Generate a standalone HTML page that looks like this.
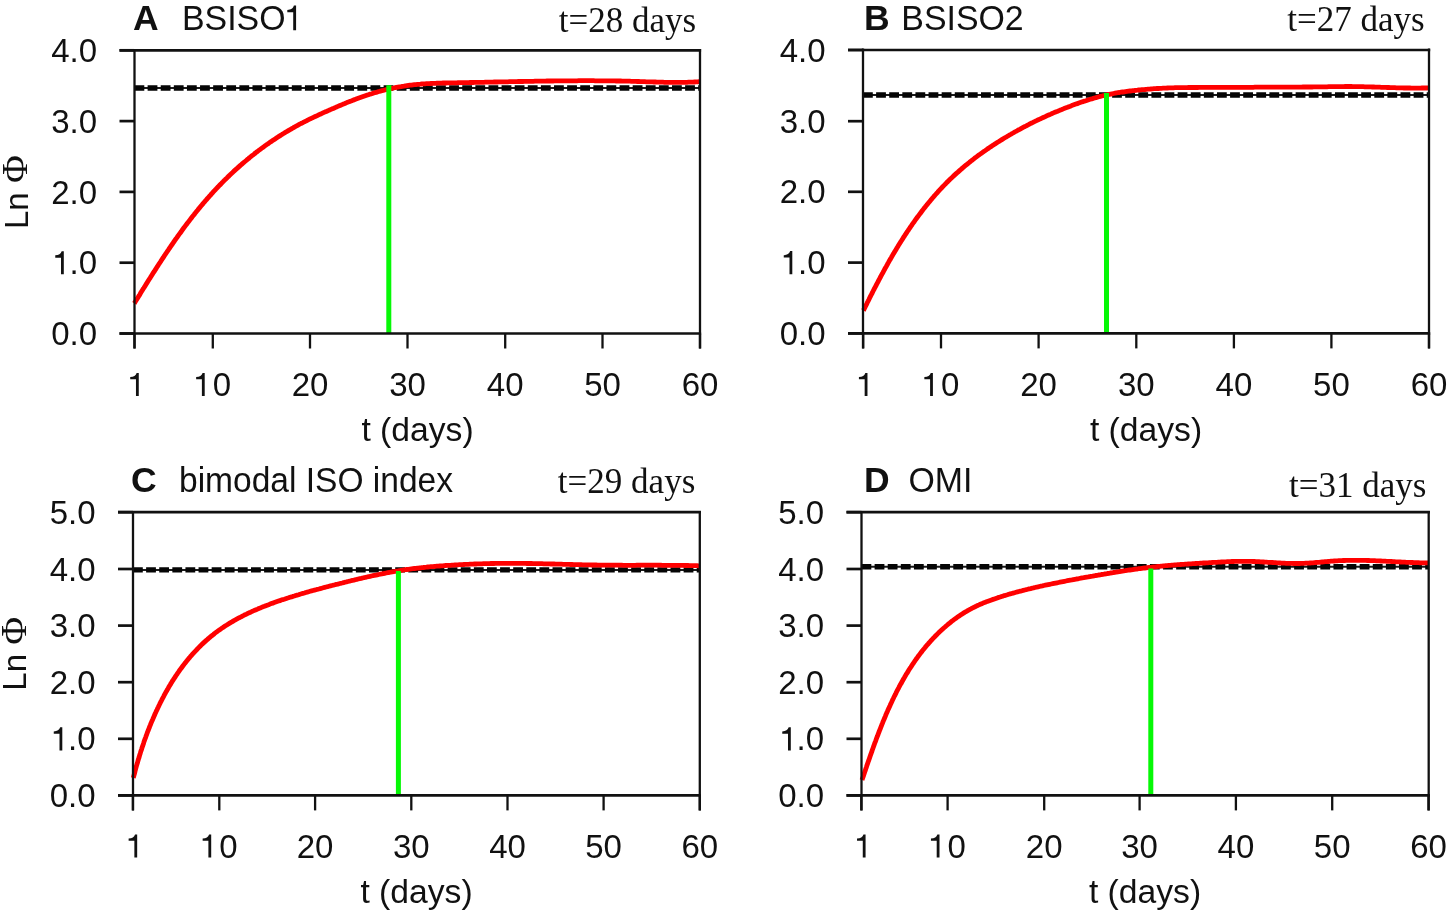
<!DOCTYPE html>
<html><head><meta charset="utf-8"><title>Ln Phi vs t</title>
<style>
html,body{margin:0;padding:0;background:#fff;}
body{width:1450px;height:914px;overflow:hidden;}
svg{display:block;filter:blur(0.45px);}
.s{font-family:"Liberation Sans",sans-serif;font-size:33px;fill:#111;}
.b{font-weight:bold;}
.r{font-family:"Liberation Serif",serif;font-size:35px;fill:#111;}
.r2{font-family:"Liberation Serif",serif;}
</style></head>
<body>
<svg width="1450" height="914" viewBox="0 0 1450 914">
<rect width="1450" height="914" fill="#fff"/>
<line x1="134.5" y1="88.0" x2="700.0" y2="88.0" stroke="#1a1a1a" stroke-width="2"/>
<line x1="134.5" y1="88.0" x2="700.0" y2="88.0" stroke="#050505" stroke-width="5.4" stroke-dasharray="9.8 3.31"/>
<path d="M134.3,303.3 L135.1,302.1 L135.9,300.8 L136.7,299.5 L137.5,298.2 L138.3,296.9 L139.1,295.7 L139.9,294.4 L140.6,293.1 L141.4,291.8 L142.2,290.5 L143.0,289.2 L143.8,288.0 L144.6,286.7 L145.4,285.4 L146.2,284.1 L147.0,282.9 L147.8,281.6 L148.6,280.3 L149.4,279.0 L150.2,277.8 L151.0,276.5 L151.8,275.2 L152.6,273.9 L153.4,272.7 L154.3,271.4 L155.1,270.1 L155.9,268.9 L156.7,267.6 L157.5,266.3 L158.3,265.1 L159.1,263.8 L160.0,262.5 L160.8,261.3 L161.6,260.0 L162.4,258.7 L163.3,257.5 L164.1,256.2 L164.9,255.0 L165.8,253.7 L166.6,252.5 L167.5,251.2 L168.3,250.0 L169.1,248.7 L170.0,247.5 L170.8,246.2 L171.7,245.0 L172.6,243.8 L173.4,242.5 L174.3,241.3 L175.1,240.0 L176.0,238.8 L176.9,237.6 L177.7,236.4 L178.6,235.1 L179.5,233.9 L180.4,232.7 L181.3,231.5 L182.1,230.2 L183.0,229.0 L183.9,227.8 L184.8,226.6 L185.7,225.4 L186.6,224.2 L187.5,223.0 L188.5,221.8 L189.4,220.6 L190.3,219.4 L191.2,218.2 L192.1,217.0 L193.1,215.8 L194.0,214.7 L194.9,213.5 L195.9,212.3 L196.8,211.1 L197.8,210.0 L198.7,208.8 L199.7,207.6 L200.6,206.5 L201.6,205.3 L202.6,204.2 L203.5,203.0 L204.5,201.9 L205.5,200.7 L206.5,199.6 L207.5,198.4 L208.5,197.3 L209.5,196.2 L210.5,195.1 L211.5,193.9 L212.5,192.8 L213.5,191.7 L214.5,190.6 L215.6,189.5 L216.6,188.4 L217.6,187.3 L218.7,186.2 L219.7,185.1 L220.8,184.1 L221.8,183.0 L222.9,181.9 L223.9,180.8 L225.0,179.8 L226.1,178.7 L227.2,177.7 L228.2,176.6 L229.3,175.6 L230.4,174.5 L231.5,173.5 L232.6,172.5 L233.7,171.4 L234.8,170.4 L235.9,169.4 L237.1,168.4 L238.2,167.4 L239.3,166.4 L240.4,165.4 L241.6,164.4 L242.7,163.4 L243.9,162.4 L245.0,161.5 L246.2,160.5 L247.3,159.5 L248.5,158.6 L249.6,157.6 L250.8,156.7 L252.0,155.7 L253.2,154.8 L254.4,153.9 L255.5,152.9 L256.7,152.0 L257.9,151.1 L259.1,150.2 L260.3,149.3 L261.5,148.4 L262.8,147.5 L264.0,146.6 L265.2,145.7 L266.4,144.8 L267.7,144.0 L268.9,143.1 L270.1,142.2 L271.4,141.4 L272.6,140.6 L273.9,139.7 L275.1,138.9 L276.4,138.0 L277.6,137.2 L278.9,136.4 L280.2,135.6 L281.5,134.8 L282.7,134.0 L284.0,133.2 L285.3,132.4 L286.6,131.7 L287.9,130.9 L289.2,130.1 L290.5,129.4 L291.8,128.6 L293.1,127.9 L294.4,127.1 L295.7,126.4 L297.1,125.7 L298.4,124.9 L299.7,124.2 L301.0,123.5 L302.4,122.8 L303.7,122.1 L305.1,121.5 L306.4,120.8 L307.7,120.1 L309.1,119.4 L310.4,118.8 L311.8,118.1 L313.2,117.5 L314.5,116.8 L315.9,116.2 L317.3,115.6 L318.6,114.9 L320.0,114.3 L321.4,113.7 L322.7,113.0 L324.1,112.4 L325.5,111.8 L326.9,111.2 L328.2,110.6 L329.6,110.0 L331.0,109.4 L332.4,108.8 L333.8,108.2 L335.1,107.6 L336.5,107.0 L337.9,106.4 L339.3,105.8 L340.7,105.2 L342.1,104.6 L343.5,104.0 L344.9,103.5 L346.2,102.9 L347.6,102.3 L349.0,101.8 L350.4,101.2 L351.8,100.7 L353.2,100.1 L354.7,99.6 L356.1,99.0 L357.5,98.5 L358.9,98.0 L360.3,97.5 L361.7,97.0 L363.1,96.5 L364.6,96.0 L366.0,95.5 L367.4,95.0 L368.9,94.6 L370.3,94.1 L371.7,93.7 L373.2,93.2 L374.6,92.8 L376.1,92.4 L377.5,91.9 L379.0,91.5 L380.4,91.1 L381.9,90.7 L383.3,90.4 L384.8,90.0 L386.2,89.6 L387.7,89.3 L389.2,88.9 L390.6,88.6 L392.1,88.3 L393.6,88.0 L395.1,87.7 L396.5,87.4 L398.0,87.1 L399.5,86.8 L401.0,86.6 L402.5,86.3 L404.0,86.1 L405.5,85.8 L406.9,85.6 L408.4,85.4 L409.9,85.2 L411.4,85.1 L412.9,84.9 L414.4,84.7 L415.9,84.6 L417.4,84.4 L418.9,84.3 L420.4,84.2 L421.9,84.0 L423.4,83.9 L424.9,83.8 L426.4,83.7 L427.9,83.6 L429.4,83.6 L430.9,83.5 L432.5,83.4 L434.0,83.3 L435.5,83.3 L437.0,83.2 L438.5,83.2 L440.0,83.1 L441.5,83.1 L443.0,83.0 L444.5,83.0 L446.0,83.0 L447.5,82.9 L449.0,82.9 L450.5,82.9 L452.0,82.8 L453.5,82.8 L455.0,82.8 L456.5,82.8 L458.1,82.7 L459.6,82.7 L461.1,82.7 L462.6,82.7 L464.1,82.6 L465.6,82.6 L467.1,82.6 L468.6,82.6 L470.1,82.5 L471.6,82.5 L473.1,82.5 L474.6,82.4 L476.1,82.4 L477.6,82.4 L479.1,82.3 L480.6,82.3 L482.2,82.3 L483.7,82.3 L485.2,82.2 L486.7,82.2 L488.2,82.2 L489.7,82.1 L491.2,82.1 L492.7,82.1 L494.2,82.0 L495.7,82.0 L497.2,82.0 L498.7,81.9 L500.2,81.9 L501.7,81.9 L503.2,81.8 L504.7,81.8 L506.3,81.8 L507.8,81.8 L509.3,81.7 L510.8,81.7 L512.3,81.7 L513.8,81.6 L515.3,81.6 L516.8,81.6 L518.3,81.5 L519.8,81.5 L521.3,81.5 L522.8,81.5 L524.3,81.4 L525.8,81.4 L527.3,81.4 L528.8,81.3 L530.4,81.3 L531.9,81.3 L533.4,81.3 L534.9,81.2 L536.4,81.2 L537.9,81.2 L539.4,81.2 L540.9,81.1 L542.4,81.1 L543.9,81.1 L545.4,81.1 L546.9,81.0 L548.4,81.0 L549.9,81.0 L551.4,81.0 L553.0,81.0 L554.5,80.9 L556.0,80.9 L557.5,80.9 L559.0,80.9 L560.5,80.9 L562.0,80.9 L563.5,80.8 L565.0,80.8 L566.5,80.8 L568.0,80.8 L569.5,80.8 L571.0,80.8 L572.5,80.8 L574.0,80.8 L575.5,80.8 L577.1,80.8 L578.6,80.7 L580.1,80.7 L581.6,80.7 L583.1,80.7 L584.6,80.7 L586.1,80.7 L587.6,80.7 L589.1,80.7 L590.6,80.7 L592.1,80.7 L593.6,80.7 L595.1,80.8 L596.6,80.8 L598.1,80.8 L599.7,80.8 L601.2,80.8 L602.7,80.8 L604.2,80.8 L605.7,80.8 L607.2,80.8 L608.7,80.9 L610.2,80.9 L611.7,80.9 L613.2,80.9 L614.7,80.9 L616.2,81.0 L617.7,81.0 L619.2,81.0 L620.7,81.0 L622.2,81.1 L623.8,81.1 L625.3,81.1 L626.8,81.2 L628.3,81.2 L629.8,81.2 L631.3,81.3 L632.8,81.3 L634.3,81.4 L635.8,81.4 L637.3,81.5 L638.8,81.5 L640.3,81.6 L641.8,81.6 L643.3,81.7 L644.8,81.7 L646.3,81.8 L647.8,81.8 L649.4,81.9 L650.9,81.9 L652.4,81.9 L653.9,82.0 L655.4,82.0 L656.9,82.1 L658.4,82.1 L659.9,82.2 L661.4,82.2 L662.9,82.2 L664.4,82.3 L665.9,82.3 L667.4,82.3 L668.9,82.4 L670.4,82.4 L671.9,82.4 L673.5,82.4 L675.0,82.4 L676.5,82.4 L678.0,82.4 L679.5,82.4 L681.0,82.4 L682.5,82.4 L684.0,82.3 L685.5,82.3 L687.0,82.3 L688.5,82.2 L690.0,82.2 L691.5,82.1 L693.0,82.1 L694.5,82.0 L696.0,81.9 L697.5,81.8 L699.0,81.7 L700.6,81.6" fill="none" stroke="#ff0000" stroke-width="4.8" stroke-linejoin="round" stroke-linecap="butt"/>
<line x1="388.8" y1="85.3" x2="388.8" y2="333.5" stroke="#06f806" stroke-width="5"/>
<line x1="119.5" y1="50.3" x2="701.1" y2="50.3" stroke="#111" stroke-width="2.7"/>
<line x1="119.5" y1="333.5" x2="701.1" y2="333.5" stroke="#111" stroke-width="2.7"/>
<line x1="134.5" y1="48.9" x2="134.5" y2="348.5" stroke="#111" stroke-width="2.3"/>
<line x1="700.0" y1="48.9" x2="700.0" y2="348.5" stroke="#111" stroke-width="2.3"/>
<line x1="119.5" y1="333.5" x2="134.5" y2="333.5" stroke="#111" stroke-width="2.7"/>
<text x="97.0" y="345.1" text-anchor="end" class="s">0.0</text>
<line x1="119.5" y1="262.7" x2="134.5" y2="262.7" stroke="#111" stroke-width="2.7"/>
<text x="97.0" y="274.3" text-anchor="end" class="s">&#8199;.0</text>
<path d="M0.269,0 L0.354,0 L0.354,0.700 L0.290,0.700 C0.262,0.612 0.205,0.585 0.095,0.575 L0.095,0.505 L0.269,0.505 Z" fill="#111" transform="translate(52.12,274.30) scale(33.000,-33.000)"/>
<line x1="119.5" y1="191.9" x2="134.5" y2="191.9" stroke="#111" stroke-width="2.7"/>
<text x="97.0" y="203.5" text-anchor="end" class="s">2.0</text>
<line x1="119.5" y1="121.1" x2="134.5" y2="121.1" stroke="#111" stroke-width="2.7"/>
<text x="97.0" y="132.7" text-anchor="end" class="s">3.0</text>
<line x1="119.5" y1="50.3" x2="134.5" y2="50.3" stroke="#111" stroke-width="2.7"/>
<text x="97.0" y="61.9" text-anchor="end" class="s">4.0</text>
<line x1="134.5" y1="333.5" x2="134.5" y2="348.5" stroke="#111" stroke-width="2.3"/>
<path d="M0.269,0 L0.354,0 L0.354,0.700 L0.290,0.700 C0.262,0.612 0.205,0.585 0.095,0.575 L0.095,0.505 L0.269,0.505 Z" fill="#111" transform="translate(127.09,396.00) scale(33.000,-33.000)"/>
<line x1="212.8" y1="333.5" x2="212.8" y2="348.5" stroke="#111" stroke-width="2.3"/>
<text x="212.8" y="396.0" text-anchor="middle" class="s">&#8199;0</text>
<path d="M0.269,0 L0.354,0 L0.354,0.700 L0.290,0.700 C0.262,0.612 0.205,0.585 0.095,0.575 L0.095,0.505 L0.269,0.505 Z" fill="#111" transform="translate(193.02,396.00) scale(33.000,-33.000)"/>
<line x1="310.0" y1="333.5" x2="310.0" y2="348.5" stroke="#111" stroke-width="2.3"/>
<text x="310.0" y="396.0" text-anchor="middle" class="s">20</text>
<line x1="407.5" y1="333.5" x2="407.5" y2="348.5" stroke="#111" stroke-width="2.3"/>
<text x="407.5" y="396.0" text-anchor="middle" class="s">30</text>
<line x1="505.2" y1="333.5" x2="505.2" y2="348.5" stroke="#111" stroke-width="2.3"/>
<text x="505.2" y="396.0" text-anchor="middle" class="s">40</text>
<line x1="602.5" y1="333.5" x2="602.5" y2="348.5" stroke="#111" stroke-width="2.3"/>
<text x="602.5" y="396.0" text-anchor="middle" class="s">50</text>
<line x1="700.0" y1="333.5" x2="700.0" y2="348.5" stroke="#111" stroke-width="2.3"/>
<text x="700.0" y="396.0" text-anchor="middle" class="s">60</text>
<text x="417.5" y="441.4" text-anchor="middle" class="s" transform="translate(417.5,0) scale(1.02,1) translate(-417.5,0)">t (days)</text>
<line x1="863.0" y1="95.0" x2="1429.0" y2="95.0" stroke="#1a1a1a" stroke-width="2"/>
<line x1="863.0" y1="95.0" x2="1429.0" y2="95.0" stroke="#050505" stroke-width="5.4" stroke-dasharray="9.8 3.31"/>
<path d="M863.4,310.5 L864.1,309.2 L864.8,307.8 L865.4,306.5 L866.1,305.1 L866.8,303.8 L867.4,302.4 L868.1,301.1 L868.8,299.7 L869.4,298.4 L870.1,297.0 L870.8,295.7 L871.5,294.3 L872.2,293.0 L872.8,291.7 L873.5,290.3 L874.2,289.0 L874.9,287.6 L875.6,286.3 L876.3,285.0 L877.0,283.6 L877.7,282.3 L878.4,281.0 L879.1,279.6 L879.8,278.3 L880.5,277.0 L881.2,275.6 L881.9,274.3 L882.7,273.0 L883.4,271.7 L884.1,270.3 L884.8,269.0 L885.5,267.7 L886.3,266.4 L887.0,265.1 L887.7,263.8 L888.5,262.4 L889.2,261.1 L890.0,259.8 L890.7,258.5 L891.5,257.2 L892.2,255.9 L893.0,254.6 L893.8,253.3 L894.5,252.0 L895.3,250.7 L896.1,249.4 L896.9,248.1 L897.6,246.9 L898.4,245.6 L899.2,244.3 L900.0,243.0 L900.8,241.7 L901.6,240.5 L902.4,239.2 L903.2,237.9 L904.0,236.7 L904.8,235.4 L905.7,234.1 L906.5,232.9 L907.3,231.6 L908.2,230.4 L909.0,229.1 L909.9,227.9 L910.7,226.6 L911.6,225.4 L912.4,224.1 L913.3,222.9 L914.2,221.7 L915.0,220.5 L915.9,219.2 L916.8,218.0 L917.7,216.8 L918.6,215.6 L919.5,214.4 L920.4,213.2 L921.3,212.0 L922.2,210.8 L923.1,209.6 L924.0,208.4 L925.0,207.2 L925.9,206.0 L926.9,204.9 L927.8,203.7 L928.8,202.5 L929.7,201.4 L930.7,200.2 L931.7,199.1 L932.6,197.9 L933.6,196.8 L934.6,195.6 L935.6,194.5 L936.6,193.4 L937.6,192.3 L938.6,191.1 L939.6,190.0 L940.7,188.9 L941.7,187.8 L942.7,186.7 L943.8,185.6 L944.8,184.6 L945.9,183.5 L946.9,182.4 L948.0,181.4 L949.1,180.3 L950.1,179.2 L951.2,178.2 L952.3,177.2 L953.4,176.1 L954.5,175.1 L955.6,174.1 L956.7,173.1 L957.9,172.1 L959.0,171.1 L960.1,170.1 L961.3,169.1 L962.4,168.1 L963.6,167.1 L964.7,166.2 L965.9,165.2 L967.0,164.3 L968.2,163.3 L969.4,162.4 L970.6,161.4 L971.7,160.5 L972.9,159.6 L974.1,158.7 L975.3,157.7 L976.5,156.8 L977.7,155.9 L978.9,155.0 L980.2,154.1 L981.4,153.3 L982.6,152.4 L983.8,151.5 L985.1,150.7 L986.3,149.8 L987.5,148.9 L988.8,148.1 L990.0,147.2 L991.3,146.4 L992.5,145.6 L993.8,144.7 L995.1,143.9 L996.3,143.1 L997.6,142.3 L998.9,141.5 L1000.1,140.7 L1001.4,139.9 L1002.7,139.1 L1004.0,138.3 L1005.3,137.5 L1006.6,136.8 L1007.9,136.0 L1009.2,135.2 L1010.5,134.5 L1011.8,133.7 L1013.1,133.0 L1014.4,132.2 L1015.7,131.5 L1017.0,130.8 L1018.3,130.0 L1019.7,129.3 L1021.0,128.6 L1022.3,127.9 L1023.6,127.2 L1025.0,126.5 L1026.3,125.8 L1027.6,125.1 L1029.0,124.4 L1030.3,123.7 L1031.7,123.0 L1033.0,122.4 L1034.4,121.7 L1035.7,121.0 L1037.1,120.4 L1038.4,119.7 L1039.8,119.1 L1041.2,118.5 L1042.5,117.8 L1043.9,117.2 L1045.3,116.6 L1046.6,115.9 L1048.0,115.3 L1049.4,114.7 L1050.8,114.1 L1052.1,113.5 L1053.5,112.9 L1054.9,112.3 L1056.3,111.7 L1057.7,111.2 L1059.1,110.6 L1060.5,110.0 L1061.9,109.5 L1063.3,108.9 L1064.7,108.3 L1066.1,107.8 L1067.5,107.3 L1068.9,106.7 L1070.3,106.2 L1071.7,105.6 L1073.1,105.1 L1074.5,104.6 L1075.9,104.1 L1077.4,103.6 L1078.8,103.1 L1080.2,102.6 L1081.6,102.1 L1083.1,101.6 L1084.5,101.1 L1085.9,100.7 L1087.3,100.2 L1088.8,99.7 L1090.2,99.3 L1091.7,98.9 L1093.1,98.4 L1094.5,98.0 L1096.0,97.6 L1097.4,97.2 L1098.9,96.8 L1100.4,96.4 L1101.8,96.0 L1103.3,95.7 L1104.7,95.3 L1106.2,95.0 L1107.7,94.7 L1109.2,94.4 L1110.6,94.1 L1112.1,93.8 L1113.6,93.5 L1115.1,93.2 L1116.6,92.9 L1118.0,92.7 L1119.5,92.5 L1121.0,92.2 L1122.5,92.0 L1124.0,91.8 L1125.5,91.6 L1127.0,91.4 L1128.5,91.2 L1130.0,91.0 L1131.5,90.8 L1133.0,90.6 L1134.5,90.5 L1136.0,90.3 L1137.4,90.2 L1138.9,90.0 L1140.4,89.9 L1141.9,89.7 L1143.4,89.6 L1144.9,89.5 L1146.4,89.3 L1147.9,89.2 L1149.4,89.1 L1151.0,89.0 L1152.5,88.9 L1154.0,88.7 L1155.5,88.6 L1157.0,88.5 L1158.5,88.5 L1160.0,88.4 L1161.5,88.3 L1163.0,88.2 L1164.5,88.1 L1166.0,88.1 L1167.5,88.0 L1169.0,87.9 L1170.5,87.9 L1172.0,87.8 L1173.5,87.8 L1175.0,87.7 L1176.5,87.7 L1178.0,87.7 L1179.5,87.7 L1181.0,87.6 L1182.5,87.6 L1184.0,87.6 L1185.6,87.6 L1187.1,87.6 L1188.6,87.5 L1190.1,87.5 L1191.6,87.5 L1193.1,87.5 L1194.6,87.5 L1196.1,87.5 L1197.6,87.5 L1199.1,87.4 L1200.6,87.4 L1202.1,87.4 L1203.6,87.4 L1205.1,87.4 L1206.6,87.4 L1208.1,87.4 L1209.6,87.4 L1211.2,87.4 L1212.7,87.4 L1214.2,87.4 L1215.7,87.3 L1217.2,87.3 L1218.7,87.3 L1220.2,87.3 L1221.7,87.3 L1223.2,87.3 L1224.7,87.3 L1226.2,87.3 L1227.7,87.3 L1229.2,87.3 L1230.7,87.3 L1232.2,87.3 L1233.7,87.3 L1235.3,87.3 L1236.8,87.3 L1238.3,87.3 L1239.8,87.3 L1241.3,87.3 L1242.8,87.3 L1244.3,87.3 L1245.8,87.3 L1247.3,87.3 L1248.8,87.3 L1250.3,87.3 L1251.8,87.3 L1253.3,87.3 L1254.8,87.2 L1256.3,87.2 L1257.8,87.2 L1259.3,87.2 L1260.9,87.2 L1262.4,87.2 L1263.9,87.2 L1265.4,87.2 L1266.9,87.2 L1268.4,87.2 L1269.9,87.2 L1271.4,87.2 L1272.9,87.2 L1274.4,87.2 L1275.9,87.2 L1277.4,87.2 L1278.9,87.2 L1280.4,87.2 L1281.9,87.2 L1283.4,87.2 L1285.0,87.2 L1286.5,87.2 L1288.0,87.2 L1289.5,87.1 L1291.0,87.1 L1292.5,87.1 L1294.0,87.1 L1295.5,87.1 L1297.0,87.1 L1298.5,87.1 L1300.0,87.1 L1301.5,87.1 L1303.0,87.0 L1304.5,87.0 L1306.0,87.0 L1307.5,87.0 L1309.0,87.0 L1310.6,87.0 L1312.1,87.0 L1313.6,86.9 L1315.1,86.9 L1316.6,86.9 L1318.1,86.9 L1319.6,86.9 L1321.1,86.8 L1322.6,86.8 L1324.1,86.8 L1325.6,86.8 L1327.1,86.8 L1328.6,86.7 L1330.1,86.7 L1331.6,86.7 L1333.1,86.7 L1334.6,86.7 L1336.2,86.6 L1337.7,86.6 L1339.2,86.6 L1340.7,86.6 L1342.2,86.6 L1343.7,86.6 L1345.2,86.5 L1346.7,86.5 L1348.2,86.5 L1349.7,86.5 L1351.2,86.5 L1352.7,86.6 L1354.2,86.6 L1355.7,86.6 L1357.2,86.6 L1358.7,86.6 L1360.2,86.7 L1361.8,86.7 L1363.3,86.7 L1364.8,86.8 L1366.3,86.8 L1367.8,86.8 L1369.3,86.9 L1370.8,86.9 L1372.3,87.0 L1373.8,87.0 L1375.3,87.1 L1376.8,87.1 L1378.3,87.2 L1379.8,87.2 L1381.3,87.3 L1382.8,87.3 L1384.3,87.4 L1385.8,87.4 L1387.3,87.5 L1388.8,87.5 L1390.4,87.6 L1391.9,87.6 L1393.4,87.7 L1394.9,87.7 L1396.4,87.8 L1397.9,87.8 L1399.4,87.8 L1400.9,87.9 L1402.4,87.9 L1403.9,88.0 L1405.4,88.0 L1406.9,88.0 L1408.4,88.0 L1409.9,88.0 L1411.4,88.1 L1412.9,88.1 L1414.4,88.1 L1415.9,88.1 L1417.5,88.1 L1419.0,88.1 L1420.5,88.1 L1422.0,88.0 L1423.5,88.0 L1425.0,88.0 L1426.5,88.0 L1428.0,87.9 L1429.5,87.9" fill="none" stroke="#ff0000" stroke-width="4.8" stroke-linejoin="round" stroke-linecap="butt"/>
<line x1="1106.5" y1="92.9" x2="1106.5" y2="333.4" stroke="#06f806" stroke-width="5"/>
<line x1="848.0" y1="50.0" x2="1430.2" y2="50.0" stroke="#111" stroke-width="2.7"/>
<line x1="848.0" y1="333.4" x2="1430.2" y2="333.4" stroke="#111" stroke-width="2.7"/>
<line x1="863.0" y1="48.6" x2="863.0" y2="348.4" stroke="#111" stroke-width="2.3"/>
<line x1="1429.0" y1="48.6" x2="1429.0" y2="348.4" stroke="#111" stroke-width="2.3"/>
<line x1="848.0" y1="333.4" x2="863.0" y2="333.4" stroke="#111" stroke-width="2.7"/>
<text x="825.5" y="345.0" text-anchor="end" class="s">0.0</text>
<line x1="848.0" y1="262.6" x2="863.0" y2="262.6" stroke="#111" stroke-width="2.7"/>
<text x="825.5" y="274.2" text-anchor="end" class="s">&#8199;.0</text>
<path d="M0.269,0 L0.354,0 L0.354,0.700 L0.290,0.700 C0.262,0.612 0.205,0.585 0.095,0.575 L0.095,0.505 L0.269,0.505 Z" fill="#111" transform="translate(780.62,274.20) scale(33.000,-33.000)"/>
<line x1="848.0" y1="191.8" x2="863.0" y2="191.8" stroke="#111" stroke-width="2.7"/>
<text x="825.5" y="203.4" text-anchor="end" class="s">2.0</text>
<line x1="848.0" y1="121.2" x2="863.0" y2="121.2" stroke="#111" stroke-width="2.7"/>
<text x="825.5" y="132.8" text-anchor="end" class="s">3.0</text>
<line x1="848.0" y1="50.0" x2="863.0" y2="50.0" stroke="#111" stroke-width="2.7"/>
<text x="825.5" y="61.6" text-anchor="end" class="s">4.0</text>
<line x1="863.2" y1="333.4" x2="863.2" y2="348.4" stroke="#111" stroke-width="2.3"/>
<path d="M0.269,0 L0.354,0 L0.354,0.700 L0.290,0.700 C0.262,0.612 0.205,0.585 0.095,0.575 L0.095,0.505 L0.269,0.505 Z" fill="#111" transform="translate(855.79,396.00) scale(33.000,-33.000)"/>
<line x1="941.0" y1="333.4" x2="941.0" y2="348.4" stroke="#111" stroke-width="2.3"/>
<text x="941.0" y="396.0" text-anchor="middle" class="s">&#8199;0</text>
<path d="M0.269,0 L0.354,0 L0.354,0.700 L0.290,0.700 C0.262,0.612 0.205,0.585 0.095,0.575 L0.095,0.505 L0.269,0.505 Z" fill="#111" transform="translate(921.22,396.00) scale(33.000,-33.000)"/>
<line x1="1038.6" y1="333.4" x2="1038.6" y2="348.4" stroke="#111" stroke-width="2.3"/>
<text x="1038.6" y="396.0" text-anchor="middle" class="s">20</text>
<line x1="1136.3" y1="333.4" x2="1136.3" y2="348.4" stroke="#111" stroke-width="2.3"/>
<text x="1136.3" y="396.0" text-anchor="middle" class="s">30</text>
<line x1="1233.9" y1="333.4" x2="1233.9" y2="348.4" stroke="#111" stroke-width="2.3"/>
<text x="1233.9" y="396.0" text-anchor="middle" class="s">40</text>
<line x1="1331.4" y1="333.4" x2="1331.4" y2="348.4" stroke="#111" stroke-width="2.3"/>
<text x="1331.4" y="396.0" text-anchor="middle" class="s">50</text>
<line x1="1429.0" y1="333.4" x2="1429.0" y2="348.4" stroke="#111" stroke-width="2.3"/>
<text x="1429.0" y="396.0" text-anchor="middle" class="s">60</text>
<text x="1146.0" y="441.4" text-anchor="middle" class="s" transform="translate(1146.0,0) scale(1.02,1) translate(-1146.0,0)">t (days)</text>
<line x1="133.0" y1="569.9" x2="699.8" y2="569.9" stroke="#1a1a1a" stroke-width="2"/>
<line x1="133.0" y1="569.9" x2="699.8" y2="569.9" stroke="#050505" stroke-width="5.4" stroke-dasharray="9.8 3.31"/>
<path d="M133.3,777.9 L133.7,776.4 L134.1,774.9 L134.5,773.5 L134.9,772.0 L135.2,770.6 L135.6,769.1 L136.0,767.7 L136.4,766.2 L136.8,764.8 L137.3,763.3 L137.7,761.9 L138.1,760.4 L138.5,759.0 L139.0,757.6 L139.4,756.1 L139.8,754.7 L140.3,753.2 L140.7,751.8 L141.2,750.4 L141.7,748.9 L142.1,747.5 L142.6,746.1 L143.1,744.7 L143.6,743.2 L144.0,741.8 L144.5,740.4 L145.0,739.0 L145.6,737.6 L146.1,736.1 L146.6,734.7 L147.1,733.3 L147.6,731.9 L148.2,730.5 L148.7,729.1 L149.3,727.7 L149.8,726.3 L150.4,724.9 L150.9,723.5 L151.5,722.1 L152.1,720.7 L152.7,719.4 L153.3,718.0 L153.9,716.6 L154.5,715.2 L155.1,713.8 L155.7,712.5 L156.3,711.1 L157.0,709.7 L157.6,708.4 L158.3,707.0 L158.9,705.7 L159.6,704.3 L160.2,703.0 L160.9,701.6 L161.6,700.3 L162.3,698.9 L163.0,697.6 L163.7,696.3 L164.4,694.9 L165.1,693.6 L165.8,692.3 L166.6,691.0 L167.3,689.7 L168.1,688.4 L168.8,687.1 L169.6,685.8 L170.4,684.5 L171.1,683.2 L171.9,681.9 L172.7,680.7 L173.5,679.4 L174.4,678.1 L175.2,676.9 L176.0,675.6 L176.9,674.4 L177.7,673.1 L178.6,671.9 L179.4,670.7 L180.3,669.4 L181.2,668.2 L182.1,667.0 L183.0,665.8 L183.9,664.6 L184.8,663.4 L185.8,662.2 L186.7,661.1 L187.6,659.9 L188.6,658.7 L189.6,657.6 L190.5,656.4 L191.5,655.3 L192.5,654.2 L193.5,653.1 L194.5,652.0 L195.6,650.9 L196.6,649.8 L197.6,648.7 L198.7,647.6 L199.8,646.5 L200.8,645.5 L201.9,644.4 L203.0,643.4 L204.1,642.4 L205.2,641.4 L206.3,640.4 L207.5,639.4 L208.6,638.4 L209.8,637.4 L210.9,636.4 L212.1,635.5 L213.3,634.6 L214.4,633.6 L215.6,632.7 L216.8,631.8 L218.0,630.9 L219.3,630.0 L220.5,629.2 L221.7,628.3 L223.0,627.5 L224.2,626.6 L225.5,625.8 L226.8,625.0 L228.0,624.2 L229.3,623.4 L230.6,622.6 L231.9,621.9 L233.2,621.1 L234.5,620.3 L235.8,619.6 L237.1,618.9 L238.4,618.2 L239.8,617.5 L241.1,616.8 L242.4,616.1 L243.8,615.4 L245.1,614.7 L246.5,614.1 L247.8,613.4 L249.2,612.8 L250.6,612.2 L251.9,611.5 L253.3,610.9 L254.7,610.3 L256.1,609.7 L257.5,609.1 L258.8,608.5 L260.2,608.0 L261.6,607.4 L263.0,606.8 L264.4,606.3 L265.8,605.7 L267.2,605.2 L268.6,604.7 L270.0,604.1 L271.4,603.6 L272.9,603.1 L274.3,602.6 L275.7,602.1 L277.1,601.6 L278.5,601.1 L280.0,600.6 L281.4,600.1 L282.8,599.6 L284.2,599.2 L285.7,598.7 L287.1,598.2 L288.5,597.8 L290.0,597.3 L291.4,596.9 L292.8,596.4 L294.3,596.0 L295.7,595.5 L297.1,595.1 L298.6,594.7 L300.0,594.2 L301.5,593.8 L302.9,593.4 L304.4,593.0 L305.8,592.5 L307.3,592.1 L308.7,591.7 L310.1,591.3 L311.6,590.9 L313.0,590.5 L314.5,590.1 L316.0,589.7 L317.4,589.3 L318.9,589.0 L320.3,588.6 L321.8,588.2 L323.2,587.8 L324.7,587.4 L326.1,587.0 L327.6,586.7 L329.0,586.3 L330.5,585.9 L332.0,585.5 L333.4,585.2 L334.9,584.8 L336.3,584.4 L337.8,584.1 L339.2,583.7 L340.7,583.3 L342.2,583.0 L343.6,582.6 L345.1,582.2 L346.5,581.9 L348.0,581.5 L349.5,581.2 L350.9,580.8 L352.4,580.4 L353.9,580.1 L355.3,579.7 L356.8,579.4 L358.2,579.0 L359.7,578.7 L361.2,578.4 L362.6,578.0 L364.1,577.7 L365.6,577.3 L367.0,577.0 L368.5,576.7 L370.0,576.4 L371.4,576.0 L372.9,575.7 L374.4,575.4 L375.9,575.1 L377.3,574.8 L378.8,574.5 L380.3,574.2 L381.8,573.9 L383.2,573.6 L384.7,573.3 L386.2,573.0 L387.7,572.7 L389.1,572.5 L390.6,572.2 L392.1,571.9 L393.6,571.6 L395.1,571.4 L396.5,571.1 L398.0,570.9 L399.5,570.6 L401.0,570.4 L402.5,570.2 L404.0,569.9 L405.5,569.7 L406.9,569.5 L408.4,569.3 L409.9,569.1 L411.4,568.9 L412.9,568.7 L414.4,568.5 L415.9,568.3 L417.4,568.1 L418.9,568.0 L420.4,567.8 L421.9,567.6 L423.4,567.5 L424.9,567.3 L426.4,567.2 L427.9,567.0 L429.4,566.9 L430.9,566.7 L432.3,566.6 L433.8,566.5 L435.3,566.3 L436.8,566.2 L438.3,566.1 L439.8,566.0 L441.3,565.9 L442.8,565.8 L444.3,565.6 L445.8,565.5 L447.3,565.4 L448.8,565.3 L450.4,565.3 L451.9,565.2 L453.4,565.1 L454.9,565.0 L456.4,564.9 L457.9,564.8 L459.4,564.7 L460.9,564.7 L462.4,564.6 L463.9,564.5 L465.4,564.4 L466.9,564.4 L468.4,564.3 L469.9,564.2 L471.4,564.2 L472.9,564.1 L474.4,564.0 L475.9,564.0 L477.4,563.9 L478.9,563.9 L480.4,563.8 L481.9,563.8 L483.4,563.7 L484.9,563.7 L486.4,563.6 L487.9,563.6 L489.4,563.6 L490.9,563.5 L492.4,563.5 L493.9,563.5 L495.4,563.4 L496.9,563.4 L498.4,563.4 L500.0,563.4 L501.5,563.4 L503.0,563.4 L504.5,563.3 L506.0,563.3 L507.5,563.3 L509.0,563.3 L510.5,563.3 L512.0,563.3 L513.5,563.3 L515.0,563.3 L516.5,563.4 L518.0,563.4 L519.5,563.4 L521.0,563.4 L522.5,563.4 L524.0,563.4 L525.5,563.4 L527.0,563.5 L528.5,563.5 L530.0,563.5 L531.5,563.5 L533.0,563.6 L534.6,563.6 L536.1,563.6 L537.6,563.6 L539.1,563.7 L540.6,563.7 L542.1,563.7 L543.6,563.8 L545.1,563.8 L546.6,563.9 L548.1,563.9 L549.6,563.9 L551.1,564.0 L552.6,564.0 L554.1,564.0 L555.6,564.1 L557.1,564.1 L558.6,564.2 L560.1,564.2 L561.6,564.2 L563.1,564.3 L564.6,564.3 L566.1,564.4 L567.6,564.4 L569.1,564.4 L570.6,564.5 L572.1,564.5 L573.7,564.6 L575.2,564.6 L576.7,564.6 L578.2,564.7 L579.7,564.7 L581.2,564.7 L582.7,564.8 L584.2,564.8 L585.7,564.8 L587.2,564.9 L588.7,564.9 L590.2,564.9 L591.7,565.0 L593.2,565.0 L594.7,565.0 L596.2,565.0 L597.7,565.1 L599.2,565.1 L600.7,565.1 L602.2,565.1 L603.7,565.1 L605.2,565.2 L606.7,565.2 L608.2,565.2 L609.7,565.2 L611.3,565.2 L612.8,565.2 L614.3,565.2 L615.8,565.2 L617.3,565.2 L618.8,565.2 L620.3,565.2 L621.8,565.2 L623.3,565.3 L624.8,565.3 L626.3,565.3 L627.8,565.3 L629.3,565.3 L630.8,565.3 L632.3,565.3 L633.8,565.3 L635.3,565.3 L636.8,565.2 L638.3,565.2 L639.8,565.2 L641.3,565.2 L642.8,565.2 L644.3,565.2 L645.9,565.2 L647.4,565.2 L648.9,565.2 L650.4,565.2 L651.9,565.2 L653.4,565.2 L654.9,565.2 L656.4,565.2 L657.9,565.2 L659.4,565.2 L660.9,565.2 L662.4,565.3 L663.9,565.3 L665.4,565.3 L666.9,565.3 L668.4,565.3 L669.9,565.3 L671.4,565.3 L672.9,565.3 L674.4,565.3 L675.9,565.3 L677.4,565.4 L678.9,565.4 L680.5,565.4 L682.0,565.4 L683.5,565.4 L685.0,565.5 L686.5,565.5 L688.0,565.5 L689.5,565.6 L691.0,565.6 L692.5,565.6 L694.0,565.7 L695.5,565.7 L697.0,565.7 L698.5,565.8 L700.0,565.8" fill="none" stroke="#ff0000" stroke-width="4.8" stroke-linejoin="round" stroke-linecap="butt"/>
<line x1="398.4" y1="571.0" x2="398.4" y2="795.4" stroke="#06f806" stroke-width="5"/>
<line x1="118.0" y1="512.2" x2="700.9" y2="512.2" stroke="#111" stroke-width="2.7"/>
<line x1="118.0" y1="795.4" x2="700.9" y2="795.4" stroke="#111" stroke-width="2.7"/>
<line x1="133.0" y1="510.9" x2="133.0" y2="810.4" stroke="#111" stroke-width="2.3"/>
<line x1="699.8" y1="510.9" x2="699.8" y2="810.4" stroke="#111" stroke-width="2.3"/>
<line x1="118.0" y1="795.4" x2="133.0" y2="795.4" stroke="#111" stroke-width="2.7"/>
<text x="95.5" y="807.0" text-anchor="end" class="s">0.0</text>
<line x1="118.0" y1="738.8" x2="133.0" y2="738.8" stroke="#111" stroke-width="2.7"/>
<text x="95.5" y="750.4" text-anchor="end" class="s">&#8199;.0</text>
<path d="M0.269,0 L0.354,0 L0.354,0.700 L0.290,0.700 C0.262,0.612 0.205,0.585 0.095,0.575 L0.095,0.505 L0.269,0.505 Z" fill="#111" transform="translate(50.62,750.40) scale(33.000,-33.000)"/>
<line x1="118.0" y1="682.2" x2="133.0" y2="682.2" stroke="#111" stroke-width="2.7"/>
<text x="95.5" y="693.8" text-anchor="end" class="s">2.0</text>
<line x1="118.0" y1="625.6" x2="133.0" y2="625.6" stroke="#111" stroke-width="2.7"/>
<text x="95.5" y="637.2" text-anchor="end" class="s">3.0</text>
<line x1="118.0" y1="569.0" x2="133.0" y2="569.0" stroke="#111" stroke-width="2.7"/>
<text x="95.5" y="580.6" text-anchor="end" class="s">4.0</text>
<line x1="118.0" y1="512.2" x2="133.0" y2="512.2" stroke="#111" stroke-width="2.7"/>
<text x="95.5" y="523.8" text-anchor="end" class="s">5.0</text>
<line x1="132.9" y1="795.4" x2="132.9" y2="810.4" stroke="#111" stroke-width="2.3"/>
<path d="M0.269,0 L0.354,0 L0.354,0.700 L0.290,0.700 C0.262,0.612 0.205,0.585 0.095,0.575 L0.095,0.505 L0.269,0.505 Z" fill="#111" transform="translate(125.49,857.50) scale(33.000,-33.000)"/>
<line x1="219.3" y1="795.4" x2="219.3" y2="810.4" stroke="#111" stroke-width="2.3"/>
<text x="219.3" y="857.5" text-anchor="middle" class="s">&#8199;0</text>
<path d="M0.269,0 L0.354,0 L0.354,0.700 L0.290,0.700 C0.262,0.612 0.205,0.585 0.095,0.575 L0.095,0.505 L0.269,0.505 Z" fill="#111" transform="translate(199.52,857.50) scale(33.000,-33.000)"/>
<line x1="315.1" y1="795.4" x2="315.1" y2="810.4" stroke="#111" stroke-width="2.3"/>
<text x="315.1" y="857.5" text-anchor="middle" class="s">20</text>
<line x1="411.3" y1="795.4" x2="411.3" y2="810.4" stroke="#111" stroke-width="2.3"/>
<text x="411.3" y="857.5" text-anchor="middle" class="s">30</text>
<line x1="507.5" y1="795.4" x2="507.5" y2="810.4" stroke="#111" stroke-width="2.3"/>
<text x="507.5" y="857.5" text-anchor="middle" class="s">40</text>
<line x1="603.6" y1="795.4" x2="603.6" y2="810.4" stroke="#111" stroke-width="2.3"/>
<text x="603.6" y="857.5" text-anchor="middle" class="s">50</text>
<line x1="699.8" y1="795.4" x2="699.8" y2="810.4" stroke="#111" stroke-width="2.3"/>
<text x="699.8" y="857.5" text-anchor="middle" class="s">60</text>
<text x="416.5" y="903.0" text-anchor="middle" class="s" transform="translate(416.5,0) scale(1.02,1) translate(-416.5,0)">t (days)</text>
<line x1="861.5" y1="566.8" x2="1428.7" y2="566.8" stroke="#1a1a1a" stroke-width="2"/>
<line x1="861.5" y1="566.8" x2="1428.7" y2="566.8" stroke="#050505" stroke-width="5.4" stroke-dasharray="9.8 3.31"/>
<path d="M862.0,780.1 L862.5,778.6 L863.0,777.2 L863.5,775.8 L863.9,774.4 L864.4,772.9 L864.9,771.5 L865.4,770.1 L865.9,768.6 L866.4,767.2 L866.8,765.8 L867.3,764.4 L867.8,762.9 L868.3,761.5 L868.8,760.1 L869.3,758.7 L869.8,757.2 L870.3,755.8 L870.8,754.4 L871.3,753.0 L871.8,751.6 L872.3,750.1 L872.8,748.7 L873.3,747.3 L873.8,745.9 L874.3,744.5 L874.8,743.0 L875.4,741.6 L875.9,740.2 L876.4,738.8 L876.9,737.4 L877.5,736.0 L878.0,734.6 L878.5,733.2 L879.1,731.8 L879.6,730.4 L880.2,729.0 L880.7,727.6 L881.3,726.1 L881.8,724.8 L882.4,723.4 L882.9,722.0 L883.5,720.6 L884.1,719.2 L884.7,717.8 L885.3,716.4 L885.8,715.0 L886.4,713.6 L887.0,712.2 L887.6,710.9 L888.2,709.5 L888.9,708.1 L889.5,706.7 L890.1,705.4 L890.7,704.0 L891.4,702.6 L892.0,701.3 L892.6,699.9 L893.3,698.5 L893.9,697.2 L894.6,695.8 L895.3,694.5 L896.0,693.1 L896.6,691.8 L897.3,690.4 L898.0,689.1 L898.7,687.8 L899.4,686.4 L900.1,685.1 L900.9,683.8 L901.6,682.5 L902.3,681.2 L903.1,679.8 L903.8,678.5 L904.6,677.2 L905.3,675.9 L906.1,674.6 L906.9,673.3 L907.7,672.1 L908.4,670.8 L909.2,669.5 L910.1,668.2 L910.9,667.0 L911.7,665.7 L912.5,664.4 L913.4,663.2 L914.2,662.0 L915.1,660.7 L915.9,659.5 L916.8,658.3 L917.7,657.0 L918.6,655.8 L919.5,654.6 L920.4,653.4 L921.3,652.2 L922.2,651.0 L923.2,649.8 L924.1,648.7 L925.1,647.5 L926.0,646.3 L927.0,645.2 L928.0,644.1 L929.0,642.9 L930.0,641.8 L931.0,640.7 L932.0,639.6 L933.0,638.5 L934.1,637.4 L935.1,636.3 L936.2,635.2 L937.3,634.1 L938.3,633.1 L939.4,632.0 L940.5,631.0 L941.6,630.0 L942.7,629.0 L943.8,628.0 L945.0,627.0 L946.1,626.0 L947.3,625.0 L948.4,624.0 L949.6,623.1 L950.8,622.1 L951.9,621.2 L953.1,620.3 L954.3,619.4 L955.6,618.5 L956.8,617.6 L958.0,616.7 L959.3,615.9 L960.5,615.1 L961.8,614.2 L963.0,613.4 L964.3,612.6 L965.6,611.8 L966.9,611.1 L968.2,610.3 L969.5,609.6 L970.9,608.9 L972.2,608.2 L973.5,607.5 L974.9,606.8 L976.2,606.2 L977.6,605.5 L979.0,604.9 L980.3,604.3 L981.7,603.7 L983.1,603.1 L984.5,602.6 L985.9,602.0 L987.3,601.4 L988.7,600.9 L990.1,600.4 L991.5,599.9 L993.0,599.4 L994.4,598.9 L995.8,598.4 L997.2,597.9 L998.7,597.4 L1000.1,597.0 L1001.5,596.5 L1003.0,596.1 L1004.4,595.6 L1005.9,595.2 L1007.3,594.8 L1008.8,594.3 L1010.2,593.9 L1011.7,593.5 L1013.1,593.1 L1014.6,592.7 L1016.0,592.3 L1017.5,591.9 L1018.9,591.5 L1020.4,591.1 L1021.8,590.8 L1023.3,590.4 L1024.8,590.0 L1026.2,589.7 L1027.7,589.3 L1029.1,588.9 L1030.6,588.6 L1032.1,588.2 L1033.5,587.9 L1035.0,587.5 L1036.5,587.2 L1037.9,586.9 L1039.4,586.5 L1040.9,586.2 L1042.4,585.9 L1043.8,585.5 L1045.3,585.2 L1046.8,584.9 L1048.2,584.6 L1049.7,584.3 L1051.2,584.0 L1052.7,583.7 L1054.1,583.4 L1055.6,583.1 L1057.1,582.8 L1058.6,582.5 L1060.0,582.2 L1061.5,581.9 L1063.0,581.6 L1064.5,581.3 L1066.0,581.0 L1067.4,580.7 L1068.9,580.4 L1070.4,580.1 L1071.9,579.9 L1073.4,579.6 L1074.8,579.3 L1076.3,579.0 L1077.8,578.8 L1079.3,578.5 L1080.8,578.2 L1082.3,577.9 L1083.7,577.7 L1085.2,577.4 L1086.7,577.1 L1088.2,576.9 L1089.7,576.6 L1091.1,576.3 L1092.6,576.1 L1094.1,575.8 L1095.6,575.5 L1097.1,575.3 L1098.6,575.0 L1100.1,574.8 L1101.5,574.5 L1103.0,574.3 L1104.5,574.0 L1106.0,573.8 L1107.5,573.5 L1109.0,573.3 L1110.4,573.0 L1111.9,572.8 L1113.4,572.5 L1114.9,572.3 L1116.4,572.0 L1117.9,571.8 L1119.4,571.6 L1120.9,571.3 L1122.4,571.1 L1123.8,570.9 L1125.3,570.7 L1126.8,570.4 L1128.3,570.2 L1129.8,570.0 L1131.3,569.8 L1132.8,569.6 L1134.3,569.4 L1135.8,569.2 L1137.3,569.0 L1138.8,568.7 L1140.2,568.6 L1141.7,568.4 L1143.2,568.2 L1144.7,568.0 L1146.2,567.8 L1147.7,567.6 L1149.2,567.4 L1150.7,567.3 L1152.2,567.1 L1153.7,566.9 L1155.2,566.8 L1156.7,566.6 L1158.2,566.4 L1159.7,566.3 L1161.2,566.1 L1162.7,566.0 L1164.2,565.8 L1165.7,565.7 L1167.2,565.6 L1168.7,565.4 L1170.2,565.3 L1171.7,565.2 L1173.2,565.1 L1174.7,564.9 L1176.2,564.8 L1177.7,564.7 L1179.2,564.6 L1180.7,564.5 L1182.2,564.4 L1183.7,564.3 L1185.2,564.2 L1186.7,564.1 L1188.2,564.0 L1189.7,563.9 L1191.2,563.8 L1192.7,563.7 L1194.2,563.6 L1195.7,563.5 L1197.3,563.4 L1198.8,563.3 L1200.3,563.2 L1201.8,563.1 L1203.3,563.0 L1204.8,563.0 L1206.3,562.9 L1207.8,562.8 L1209.3,562.7 L1210.8,562.6 L1212.3,562.5 L1213.8,562.4 L1215.3,562.3 L1216.8,562.3 L1218.3,562.2 L1219.8,562.1 L1221.3,562.0 L1222.8,561.9 L1224.3,561.9 L1225.8,561.8 L1227.3,561.7 L1228.8,561.7 L1230.3,561.6 L1231.9,561.5 L1233.4,561.5 L1234.9,561.4 L1236.4,561.4 L1237.9,561.4 L1239.4,561.3 L1240.9,561.3 L1242.4,561.3 L1243.9,561.3 L1245.4,561.3 L1246.9,561.3 L1248.4,561.3 L1249.9,561.4 L1251.4,561.4 L1252.9,561.5 L1254.4,561.5 L1256.0,561.6 L1257.5,561.6 L1259.0,561.7 L1260.5,561.8 L1262.0,561.9 L1263.5,562.0 L1265.0,562.1 L1266.5,562.2 L1268.0,562.3 L1269.5,562.3 L1271.0,562.4 L1272.5,562.5 L1274.0,562.6 L1275.5,562.7 L1277.0,562.8 L1278.5,562.9 L1280.0,563.0 L1281.5,563.1 L1283.0,563.1 L1284.5,563.2 L1286.0,563.3 L1287.5,563.3 L1289.0,563.4 L1290.6,563.4 L1292.1,563.4 L1293.6,563.5 L1295.1,563.5 L1296.6,563.5 L1298.1,563.5 L1299.6,563.5 L1301.1,563.4 L1302.6,563.4 L1304.1,563.3 L1305.6,563.2 L1307.1,563.2 L1308.6,563.1 L1310.1,563.0 L1311.6,562.9 L1313.1,562.8 L1314.6,562.6 L1316.1,562.5 L1317.6,562.4 L1319.1,562.3 L1320.6,562.1 L1322.1,562.0 L1323.6,561.9 L1325.1,561.7 L1326.6,561.6 L1328.1,561.5 L1329.6,561.4 L1331.1,561.2 L1332.6,561.1 L1334.2,561.0 L1335.7,560.9 L1337.2,560.8 L1338.7,560.7 L1340.2,560.6 L1341.7,560.6 L1343.2,560.5 L1344.7,560.5 L1346.2,560.4 L1347.7,560.4 L1349.2,560.3 L1350.7,560.3 L1352.2,560.3 L1353.7,560.3 L1355.2,560.3 L1356.7,560.3 L1358.2,560.3 L1359.7,560.3 L1361.3,560.3 L1362.8,560.4 L1364.3,560.4 L1365.8,560.4 L1367.3,560.5 L1368.8,560.5 L1370.3,560.6 L1371.8,560.6 L1373.3,560.7 L1374.8,560.7 L1376.3,560.8 L1377.8,560.9 L1379.3,560.9 L1380.8,561.0 L1382.3,561.1 L1383.8,561.1 L1385.3,561.2 L1386.8,561.3 L1388.4,561.4 L1389.9,561.4 L1391.4,561.5 L1392.9,561.6 L1394.4,561.7 L1395.9,561.8 L1397.4,561.8 L1398.9,561.9 L1400.4,562.0 L1401.9,562.1 L1403.4,562.1 L1404.9,562.2 L1406.4,562.3 L1407.9,562.3 L1409.4,562.4 L1410.9,562.5 L1412.4,562.5 L1413.9,562.6 L1415.4,562.6 L1416.9,562.7 L1418.5,562.7 L1420.0,562.8 L1421.5,562.8 L1423.0,562.8 L1424.5,562.9 L1426.0,562.9 L1427.5,562.9 L1429.0,562.9" fill="none" stroke="#ff0000" stroke-width="4.8" stroke-linejoin="round" stroke-linecap="butt"/>
<line x1="1150.8" y1="568.4" x2="1150.8" y2="795.4" stroke="#06f806" stroke-width="5"/>
<line x1="846.5" y1="512.2" x2="1429.9" y2="512.2" stroke="#111" stroke-width="2.7"/>
<line x1="846.5" y1="795.4" x2="1429.9" y2="795.4" stroke="#111" stroke-width="2.7"/>
<line x1="861.5" y1="510.9" x2="861.5" y2="810.4" stroke="#111" stroke-width="2.3"/>
<line x1="1428.7" y1="510.9" x2="1428.7" y2="810.4" stroke="#111" stroke-width="2.3"/>
<line x1="846.5" y1="795.4" x2="861.5" y2="795.4" stroke="#111" stroke-width="2.7"/>
<text x="824.0" y="807.0" text-anchor="end" class="s">0.0</text>
<line x1="846.5" y1="738.8" x2="861.5" y2="738.8" stroke="#111" stroke-width="2.7"/>
<text x="824.0" y="750.4" text-anchor="end" class="s">&#8199;.0</text>
<path d="M0.269,0 L0.354,0 L0.354,0.700 L0.290,0.700 C0.262,0.612 0.205,0.585 0.095,0.575 L0.095,0.505 L0.269,0.505 Z" fill="#111" transform="translate(779.12,750.40) scale(33.000,-33.000)"/>
<line x1="846.5" y1="682.2" x2="861.5" y2="682.2" stroke="#111" stroke-width="2.7"/>
<text x="824.0" y="693.8" text-anchor="end" class="s">2.0</text>
<line x1="846.5" y1="625.6" x2="861.5" y2="625.6" stroke="#111" stroke-width="2.7"/>
<text x="824.0" y="637.2" text-anchor="end" class="s">3.0</text>
<line x1="846.5" y1="569.0" x2="861.5" y2="569.0" stroke="#111" stroke-width="2.7"/>
<text x="824.0" y="580.6" text-anchor="end" class="s">4.0</text>
<line x1="846.5" y1="512.2" x2="861.5" y2="512.2" stroke="#111" stroke-width="2.7"/>
<text x="824.0" y="523.8" text-anchor="end" class="s">5.0</text>
<line x1="861.3" y1="795.4" x2="861.3" y2="810.4" stroke="#111" stroke-width="2.3"/>
<path d="M0.269,0 L0.354,0 L0.354,0.700 L0.290,0.700 C0.262,0.612 0.205,0.585 0.095,0.575 L0.095,0.505 L0.269,0.505 Z" fill="#111" transform="translate(853.89,857.50) scale(33.000,-33.000)"/>
<line x1="947.6" y1="795.4" x2="947.6" y2="810.4" stroke="#111" stroke-width="2.3"/>
<text x="947.6" y="857.5" text-anchor="middle" class="s">&#8199;0</text>
<path d="M0.269,0 L0.354,0 L0.354,0.700 L0.290,0.700 C0.262,0.612 0.205,0.585 0.095,0.575 L0.095,0.505 L0.269,0.505 Z" fill="#111" transform="translate(927.82,857.50) scale(33.000,-33.000)"/>
<line x1="1044.2" y1="795.4" x2="1044.2" y2="810.4" stroke="#111" stroke-width="2.3"/>
<text x="1044.2" y="857.5" text-anchor="middle" class="s">20</text>
<line x1="1139.6" y1="795.4" x2="1139.6" y2="810.4" stroke="#111" stroke-width="2.3"/>
<text x="1139.6" y="857.5" text-anchor="middle" class="s">30</text>
<line x1="1235.9" y1="795.4" x2="1235.9" y2="810.4" stroke="#111" stroke-width="2.3"/>
<text x="1235.9" y="857.5" text-anchor="middle" class="s">40</text>
<line x1="1332.2" y1="795.4" x2="1332.2" y2="810.4" stroke="#111" stroke-width="2.3"/>
<text x="1332.2" y="857.5" text-anchor="middle" class="s">50</text>
<line x1="1428.5" y1="795.4" x2="1428.5" y2="810.4" stroke="#111" stroke-width="2.3"/>
<text x="1428.5" y="857.5" text-anchor="middle" class="s">60</text>
<text x="1145.0" y="903.0" text-anchor="middle" class="s" transform="translate(1145.0,0) scale(1.02,1) translate(-1145.0,0)">t (days)</text>
<text class="s b" style="font-size:35.5px" transform="translate(133.00,30.30) scale(1.000,1.000)">A</text>
<g transform="translate(182.00,30.30) scale(0.954,1.000)"><text class="s" style="font-size:35.5px">BSISO&#8199;</text><path d="M0.269,0 L0.354,0 L0.354,0.700 L0.290,0.700 C0.262,0.612 0.205,0.585 0.095,0.575 L0.095,0.505 L0.269,0.505 Z" fill="#111" transform="translate(107.02,0.00) scale(35.500,-35.500)"/></g>
<text class="r" style="font-size:36.0px" transform="translate(558.75,32.10) scale(0.973,1.000)">t=28 days</text>
<text class="s b" style="font-size:35.5px" transform="translate(864.00,30.30) scale(1.000,1.000)">B</text>
<text class="s" style="font-size:35.5px" transform="translate(901.30,30.30) scale(0.954,1.000)">BSISO2</text>
<text class="r" style="font-size:36.0px" transform="translate(1287.25,30.50) scale(0.973,1.000)">t=27 days</text>
<text class="s b" style="font-size:35.5px" transform="translate(131.00,492.00) scale(1.000,1.000)">C</text>
<text class="s" style="font-size:35.5px" transform="translate(179.00,492.00) scale(0.945,1.000)">bimodal ISO index</text>
<text class="r" style="font-size:36.0px" transform="translate(557.85,493.10) scale(0.973,1.000)">t=29 days</text>
<text class="s b" style="font-size:35.5px" transform="translate(864.00,491.80) scale(1.000,1.000)">D</text>
<text class="s" style="font-size:35.5px" transform="translate(908.50,491.80) scale(0.954,1.000)">OMI</text>
<text class="r" style="font-size:36.0px" transform="translate(1288.95,496.50) scale(0.973,1.000)">t=31 days</text>
<text class="s" transform="translate(27.90,229.00) rotate(-90)">Ln</text>
<text class="r" style="font-size:38px" transform="translate(27.20,183.10) rotate(-90) scale(1,0.92)">&#934;</text>
<text class="s" transform="translate(26.30,690.70) rotate(-90)">Ln</text>
<text class="r" style="font-size:38px" transform="translate(25.60,644.80) rotate(-90) scale(1,0.92)">&#934;</text>
</svg>
</body></html>
